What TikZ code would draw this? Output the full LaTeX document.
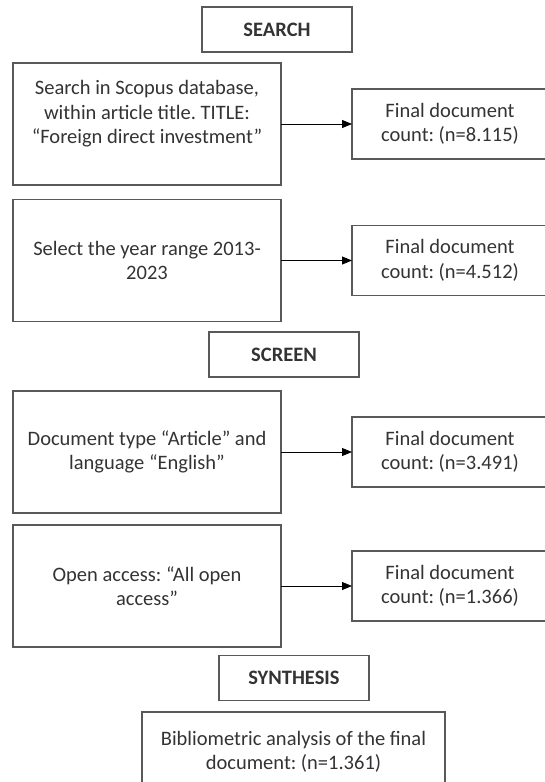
\documentclass[tikz,border=0pt]{standalone}
\usepackage{fontspec}
\setmainfont{Carlito}
\usetikzlibrary{arrows.meta,positioning}
\frenchspacing

\begin{document}
\begin{tikzpicture}[x=1pt,y=-1pt,
          every node/.style={font=\fontsize{20.5}{24.5}\selectfont,text=black!80},
          block/.style={draw=black!65,line width=1.4pt,rectangle,align=center,inner sep=0pt,outer sep=0pt},
          stage/.style={block,minimum width=150pt,minimum height=45pt,font=\fontsize{20.5}{24.5}\selectfont\bfseries},
          query/.style={block,minimum width=268pt,minimum height=122pt},
          count/.style={block,minimum width=196pt,minimum height=70pt,node distance=71pt},
          link/.style={-{Triangle[length=10pt,width=8pt]},line width=0.9pt,black}]

                \useasboundingbox (0,0) rectangle (544,782);

                \node[stage] (S1) at (277,29.5) {SEARCH};
                \node[query,text depth=24pt] (L1) at (147,124) {Search in Scopus database,\\ within article title. TITLE:\\ “Foreign direct investment”};
                \node[count,right=of L1] (R1) {Final document\\ count: (n=8.115)};
                \node[query] (L2) at (147,260.5) {Select the year range 2013-\\ 2023};
                \node[count,right=of L2] (R2) {Final document\\ count: (n=4.512)};

                \node[stage] (S2) at (284,354.5) {SCREEN};
                \node[query] (L3) at (147,452) {Document type “Article” and\\ language “English”};
                \node[count,right=of L3] (R3) {Final document\\ count: (n=3.491)};
                \node[query] (L4) at (147,586) {Open access: “All open\\ access”};
                \node[count,right=of L4] (R4) {Final document\\ count: (n=1.366)};

                \node[stage] (S3) at (294,678) {SYNTHESIS};
                \node[block,minimum width=303pt,minimum height=80pt] (B) at (293.5,752) {Bibliometric analysis of the final\\ document: (n=1.361)};

                \draw[link] (L1) -- (R1);
                \draw[link] (L2) -- (R2);
                \draw[link] (L3) -- (R3);
                \draw[link] (L4) -- (R4);
              \end{tikzpicture}
\end{document}
